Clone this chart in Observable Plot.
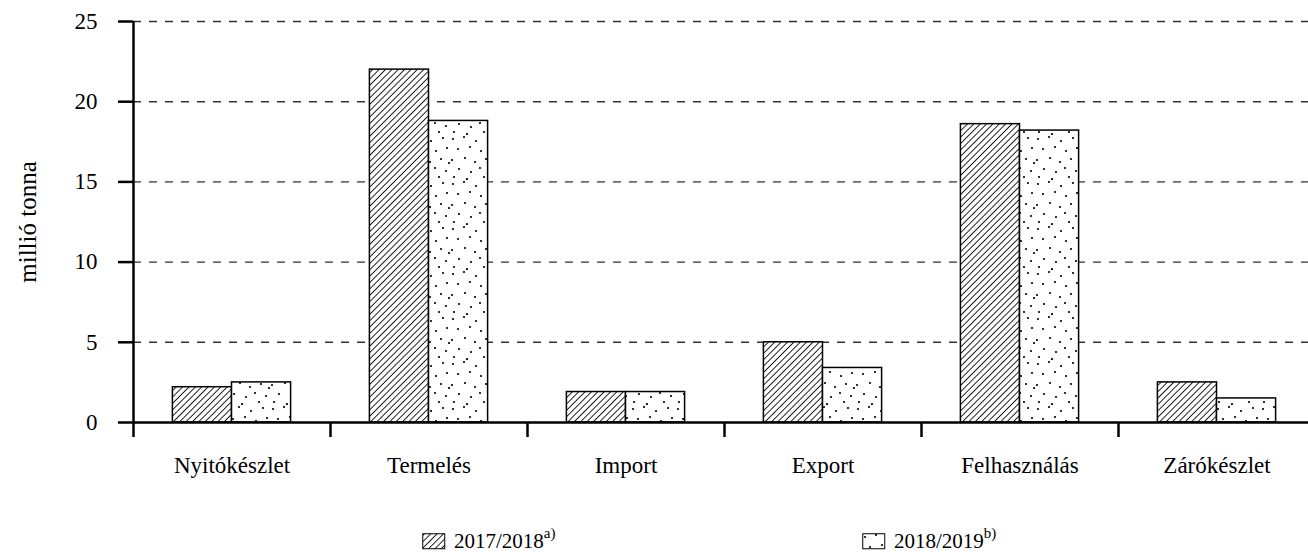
<!DOCTYPE html>
<html><head><meta charset="utf-8">
<script src="https://cdn.jsdelivr.net/npm/d3@7"></script>
<script src="https://cdn.jsdelivr.net/npm/@observablehq/plot@0.6"></script>
<style>
body{margin:0;background:#fff;overflow:hidden;font-family:"Liberation Serif","Times New Roman",serif;}
#legend{position:relative;height:47px;width:1308px;font-size:21px;color:#000}
.item{position:absolute;top:24px;display:flex;align-items:center;height:24px;white-space:nowrap}
.item svg{margin-right:8px;display:block}
.sup{font-size:15px;position:relative;top:-8px}
</style></head><body>
<svg width="0" height="0" style="position:absolute">
  <defs>
    <pattern id="hatch" patternUnits="userSpaceOnUse" width="4.5" height="10" patternTransform="rotate(45)">
      <rect x="-1" y="-1" width="7" height="12" fill="#fff"></rect>
      <line x1="2.25" y1="-1" x2="2.25" y2="11" stroke="#000" stroke-width="0.9"></line>
    </pattern>
    <pattern id="dots" patternUnits="userSpaceOnUse" width="45" height="45">
      <rect x="0" y="0" width="45" height="45" fill="#fff"></rect>
      <g fill="#000">
        <circle cx="3" cy="4" r="1.1"></circle><circle cx="14" cy="2" r="1.1"></circle>
        <circle cx="26" cy="6" r="1.1"></circle><circle cx="38" cy="3" r="1.1"></circle>
        <circle cx="8" cy="14" r="1.1"></circle><circle cx="20" cy="12" r="1.1"></circle>
        <circle cx="31" cy="16" r="1.1"></circle><circle cx="42" cy="13" r="1.1"></circle>
        <circle cx="2" cy="25" r="1.1"></circle><circle cx="15" cy="23" r="1.1"></circle>
        <circle cx="25" cy="27" r="1.1"></circle><circle cx="36" cy="24" r="1.1"></circle>
        <circle cx="9" cy="34" r="1.1"></circle><circle cx="21" cy="37" r="1.1"></circle>
        <circle cx="30" cy="33" r="1.1"></circle><circle cx="41" cy="36" r="1.1"></circle>
        <circle cx="4" cy="42" r="1.1"></circle><circle cx="17" cy="44" r="1.1"></circle>
        <circle cx="34" cy="42" r="1.1"></circle><circle cx="44" cy="28" r="1.1"></circle>
      </g>
    </pattern>
  </defs>
</svg>
<div id="chart"></div>
<div id="legend"></div>
<script>
const categories = ["Nyitókészlet", "Termelés", "Import", "Export", "Felhasználás", "Zárókészlet"];
const seriesNames = ["2017/2018", "2018/2019"];
const seriesNotes = ["a)", "b)"];
const values2017 = [2.2, 22.0, 1.9, 5.0, 18.6, 2.5];
const values2018 = [2.5, 18.8, 1.9, 3.4, 18.2, 1.5];
const yTicks = [0, 5, 10, 15, 20, 25];
const yLabel = "millió tonna";

// layout within each category slot (slot = 1 unit on x)
const barStart = 0.2, barWidth = 0.3;

const rows = categories.flatMap((c, i) => [
  {cat: c, i, s: 0, v: values2017[i]},
  {cat: c, i, s: 1, v: values2018[i]}
]);
const fills = ["url(#hatch)", "url(#dots)"];

const chart = Plot.plot({
  width: 1308,
  height: 505,
  marginTop: 21,
  marginBottom: 83,
  marginLeft: 133,
  marginRight: 0,
  style: {fontFamily: '"Liberation Serif", "Times New Roman", serif', fontSize: "23px", background: "#fff", color: "#000", overflow: "hidden"},
  x: {domain: [0, categories.length], range: [133, 1315]},
  y: {domain: [0, 25]},
  marks: [
    Plot.gridY(yTicks.filter(t => t > 0), {stroke: "#333", strokeOpacity: 1, strokeWidth: 1.4, strokeDasharray: "8,8"}),
    ...[0, 1].map(s => Plot.rectY(rows.filter(d => d.s === s), {
      x1: d => d.i + barStart + barWidth * d.s,
      x2: d => d.i + barStart + barWidth * (d.s + 1),
      y1: 0, y2: "v",
      fill: fills[s], stroke: "#000", strokeWidth: 1.5
    })),
    Plot.ruleY([0], {stroke: "#000", strokeWidth: 2.5}),
    Plot.ruleX([0], {y1: 0, y2: 25, stroke: "#000", strokeWidth: 2.5}),
    Plot.axisY({ticks: yTicks, tickSize: 15, tickPadding: 21, strokeWidth: 2.5, fontSize: 23, label: null}),
    Plot.axisX({ticks: d3.range(0, categories.length + 1), tickSize: 15, tickFormat: () => "", strokeWidth: 2.5, label: null}),
    Plot.axisX({ticks: categories.map((c, i) => i + 0.5), tickSize: 0, tickPadding: 34, tickFormat: d => categories[Math.floor(d)], fontSize: 23, label: null}),
    Plot.text([yLabel], {frameAnchor: "left", dx: -106, rotate: -90, textAnchor: "middle", lineAnchor: "middle", fontSize: 25, fill: "#000"})
  ]
});
document.getElementById("chart").appendChild(chart);

const legend = document.getElementById("legend");
const legendLeft = [422, 862];
seriesNames.forEach((name, s) => {
  const item = document.createElement("div");
  item.className = "item";
  item.style.left = legendLeft[s] + "px";
  item.innerHTML = `<svg width="24" height="17"><rect x="0.75" y="0.75" width="22" height="15" fill="${fills[s]}" stroke="#000" stroke-width="1"></rect></svg><span>${name}</span><span class="sup">${seriesNotes[s]}</span>`;
  legend.appendChild(item);
});
</script>
</body></html>
